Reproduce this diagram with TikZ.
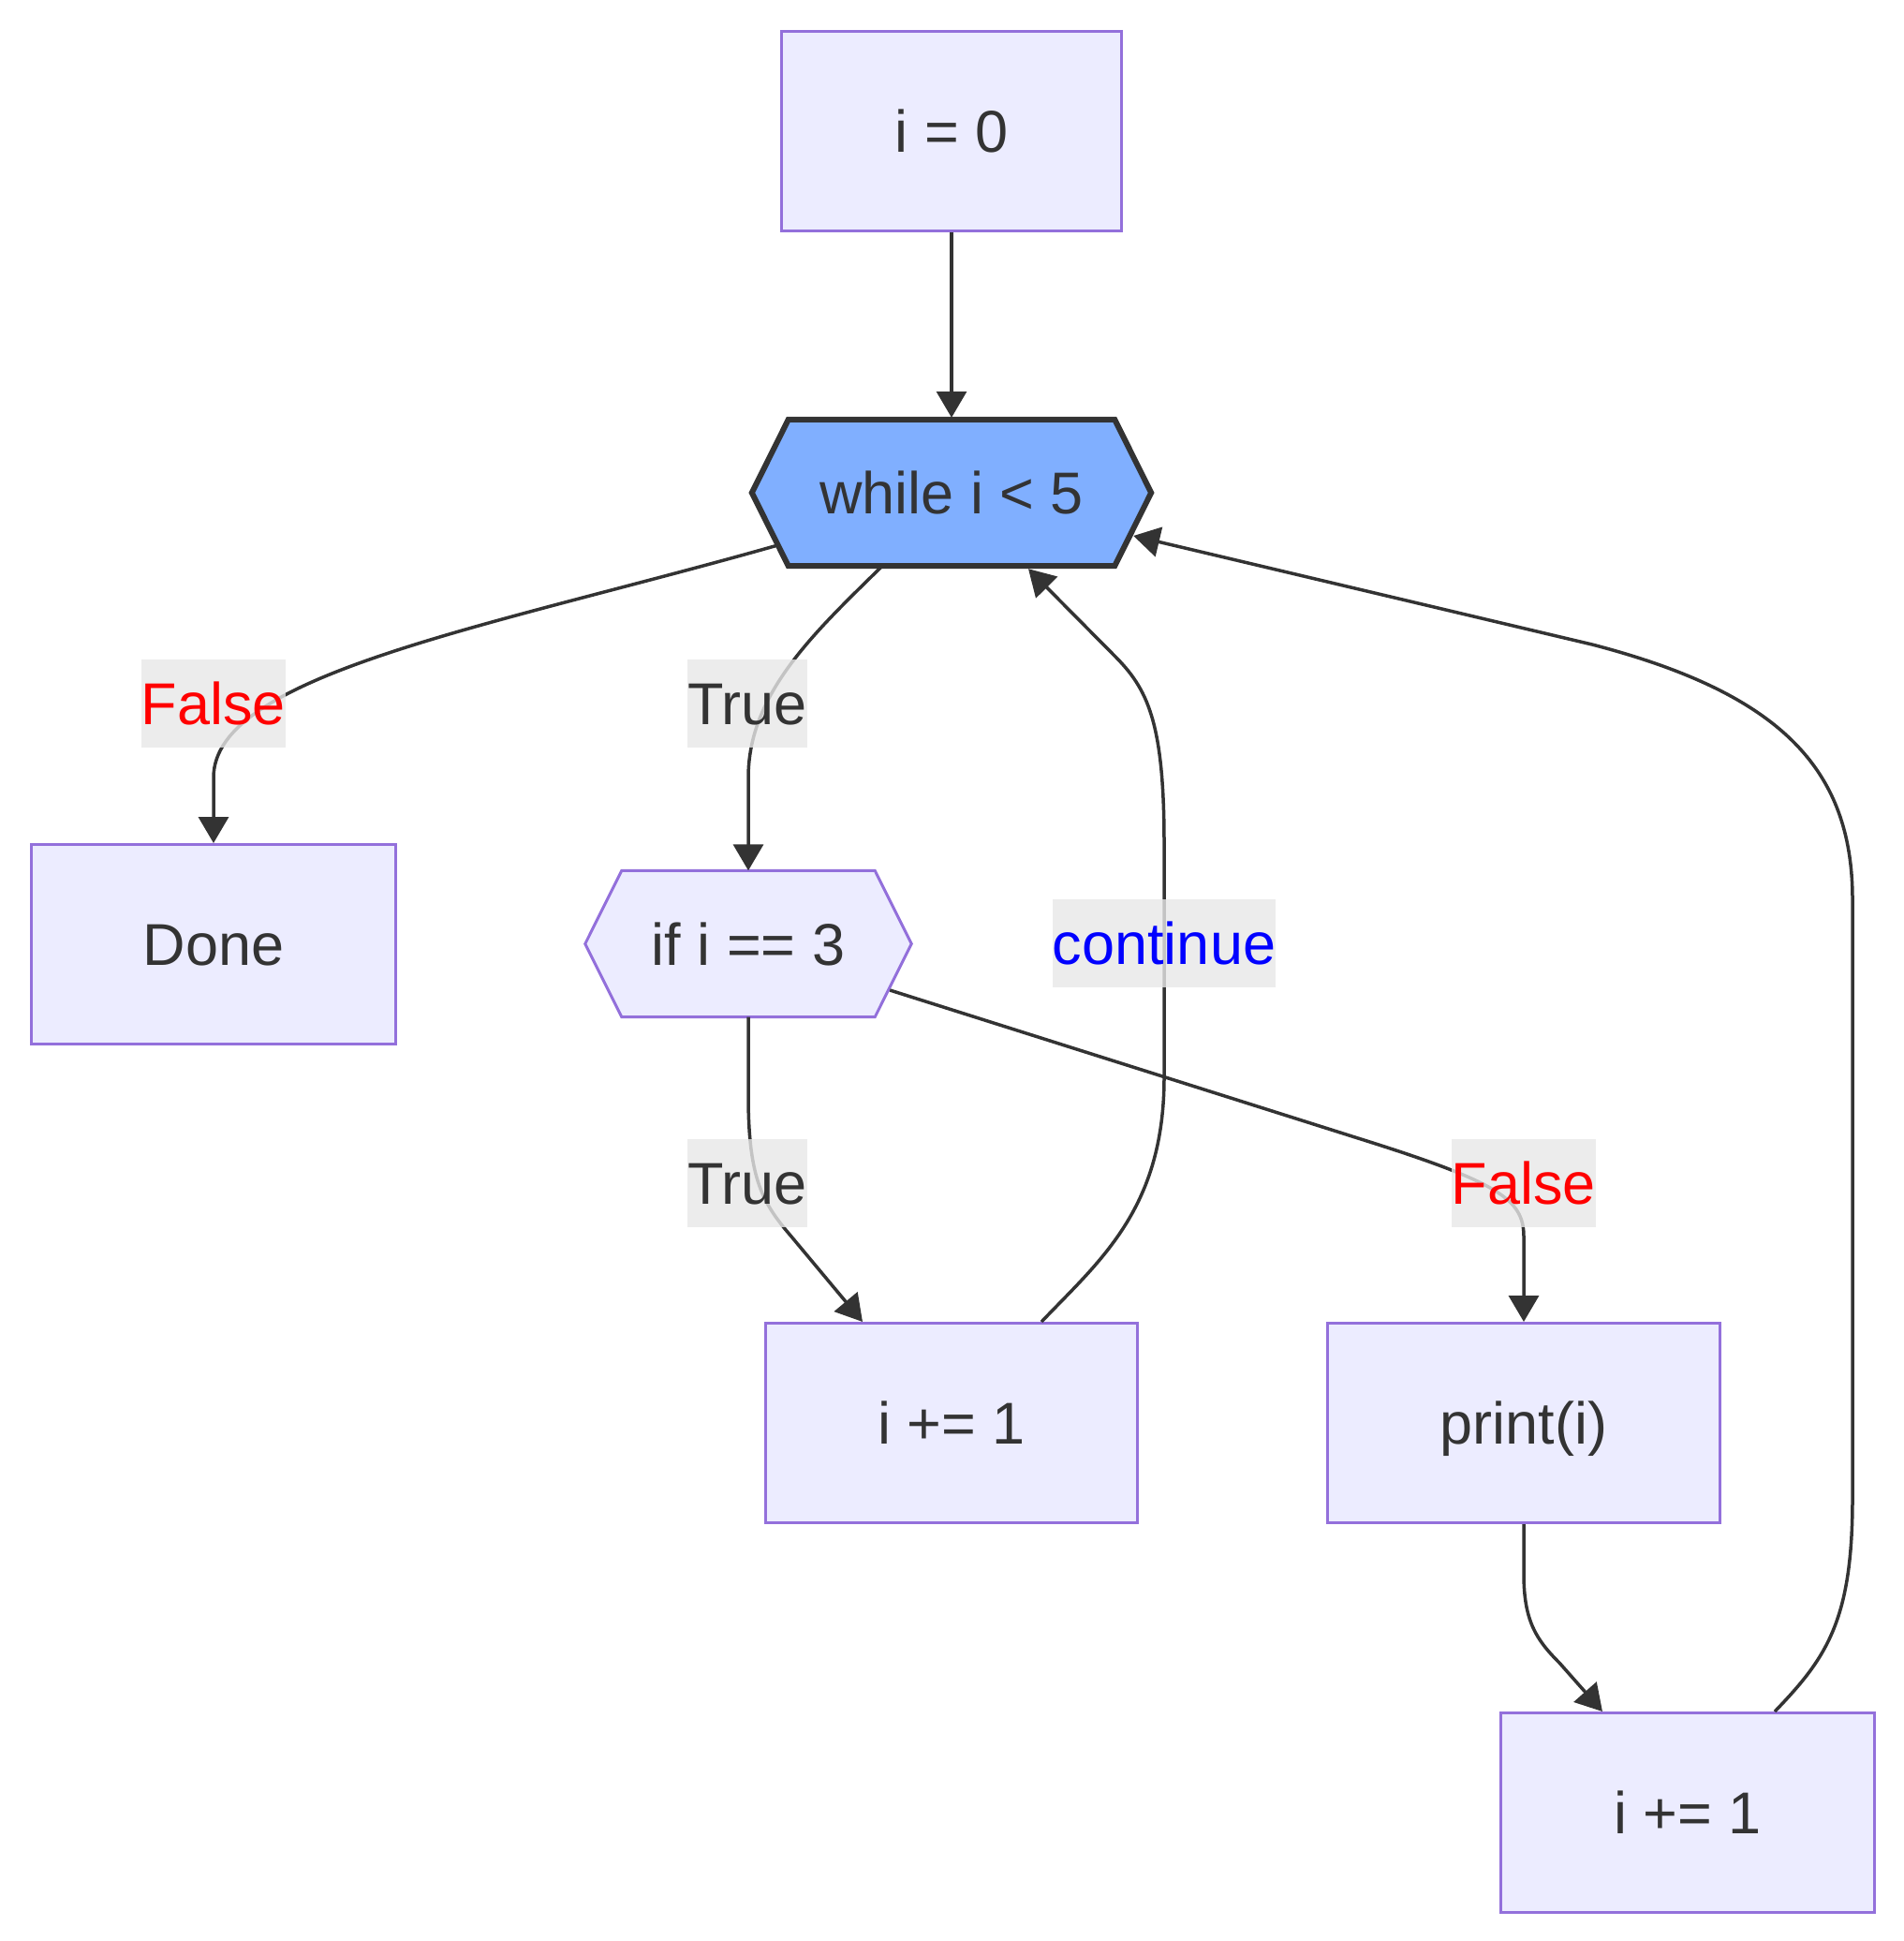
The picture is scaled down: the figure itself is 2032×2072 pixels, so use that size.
\documentclass[tikz,border=0pt]{standalone}
\usepackage{fontspec}
\setmainfont{Liberation Sans}
\usetikzlibrary{arrows.meta,backgrounds,calc}
\definecolor{ink}{HTML}{333333}
\definecolor{boxfill}{HTML}{ECECFF}
\definecolor{boxline}{HTML}{9370DB}
\definecolor{loopfill}{HTML}{80AFFF}
\definecolor{labelbg}{HTML}{E8E8E8}
\begin{document}
\begin{tikzpicture}[x=1pt,y=-1pt,
  txt/.style={font=\fontsize{63pt}{76pt}\selectfont, text=ink, text height=45pt, text depth=0pt, inner sep=0pt},
  stepbox/.style={txt, draw=boxline, fill=boxfill, line width=3pt, minimum height=213pt},
  hexcore/.style={txt, minimum height=156pt},
  edge/.style={draw=ink, line width=3.5pt, -{Triangle[length=28pt,width=32pt]}},
  edgelabel/.style={txt, fill=labelbg, fill opacity=0.8, text opacity=1, minimum height=94pt},
]
\useasboundingbox (0,0) rectangle (2032,2072);
\begin{scope}[on background layer]
  \fill[white] (0,0) rectangle (2032,2072);
\end{scope}

% process steps
\node[stepbox, minimum width=363pt] (init) at (1016,140) {i = 0};
\node[stepbox, minimum width=389pt] (done) at (228,1008) {Done};
\node[stepbox, minimum width=397pt] (cont) at (1016,1519) {i += 1};
\node[stepbox, minimum width=419pt] (show) at (1627,1519) {print(i)};
\node[stepbox, minimum width=399pt] (incr) at (1802,1935) {i += 1};

% decision hexagons: text cores, outlines drawn behind
\node[hexcore, minimum width=348pt] (loop) at (1016,526) {while i < 5};
\node[hexcore, minimum width=270pt] (cond) at (799,1007.5) {if i == 3};
\begin{scope}[on background layer]
  \draw[line width=6pt, draw=ink, fill=loopfill, line join=miter]
    (loop.north west) -- (loop.north east) -- ([xshift=39pt]loop.east)
    -- (loop.south east) -- (loop.south west) -- ([xshift=-39pt]loop.west) -- cycle;
  \draw[line width=3pt, draw=boxline, fill=boxfill, line join=miter]
    (cond.north west) -- (cond.north east) -- ([xshift=39pt]cond.east)
    -- (cond.south east) -- (cond.south west) -- ([xshift=-39pt]cond.west) -- cycle;
\end{scope}

% connectors
\draw[edge] (init.south) -- ([yshift=2pt]loop.north);
\draw[edge] ([xshift=-12pt,yshift=22pt]loop.south west)
  .. controls (520,670) and (228,720) .. (228,830) -- (done.north);
\draw[edge] ([xshift=-74pt]loop.south)
  .. controls (870,675) and (799,740) .. (799,830) -- (cond.north);
\draw[edge] (cond.south) -- (799,1170)
  .. controls (799,1260) and (815,1285) .. (845,1320) -- ([xshift=-95pt]cont.north);
\draw[edge] ([xshift=96pt]cont.north)
  .. controls (1175,1345) and (1243,1290) .. (1243,1150) -- (1243,900)
  .. controls (1243,770) and (1225,735) .. (1190,700)
  -- ([xshift=82pt,yshift=-3pt]loop.south);
\draw[edge] ([xshift=16pt,yshift=-49.5pt]cond.east) -- (1450,1215)
  .. controls (1600,1262) and (1627,1280) .. (1627,1320) -- (show.north);
\draw[edge] (show.south) -- (1627,1680)
  .. controls (1627,1730) and (1640,1750) .. (1665,1775) -- ([xshift=-91pt]incr.north);
\draw[edge] ([xshift=93pt]incr.north)
  .. controls (1950,1770) and (1978,1730) .. (1978,1600) -- (1978,960)
  .. controls (1978,820) and (1900,740) .. (1700,688)
  -- ([xshift=20pt,yshift=-46pt]loop.east);

% connector labels
\node[edgelabel, text=red] (lf) at (228,751) {False};
\node[edgelabel] (lt) at (798,751) {True};
\node[edgelabel, text=blue] (lc) at (1243,1007) {continue};
\node[edgelabel] (lt2) at (798,1263) {True};
\node[edgelabel, text=red] (lf2) at (1627,1263) {False};
\end{tikzpicture}
\end{document}
